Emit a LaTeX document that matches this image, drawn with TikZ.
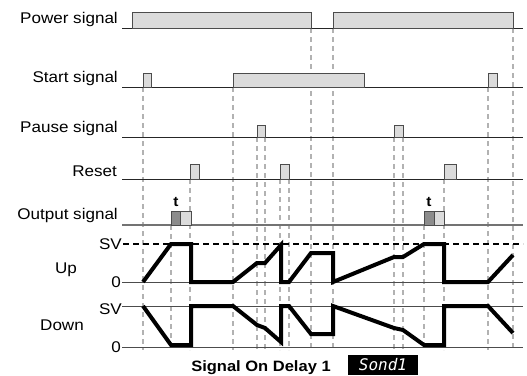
\documentclass[tikz,border=0pt]{standalone}
\usepackage{fontspec}
\setmainfont[FakeStretch=1.1]{Liberation Sans}
\setmonofont{DejaVu Sans Mono}
\tikzset{
	lbl/.style={anchor=base east, inner sep=0pt},
	base/.style={draw=black!85, line width=0.9pt},
	pulse/.style={draw=black!70, fill=black!14, line width=0.8pt},
	guide/.style={draw=black!30, line width=1.4pt, dash pattern=on 5pt off 4pt},
	wave/.style={line width=4pt, line join=miter, miter limit=3},
	axis/.style={draw=black!70, line width=0.8pt}
}
\begin{document}
\begin{tikzpicture}[x=1pt, y=-1pt, font=\fontsize{15.5}{18}\selectfont]
\useasboundingbox (0,0) rectangle (527,375);
\foreach \x/\y in {143/87, 171/225, 190/179, 233/87, 257/137, 265/137, 280/179, 289/179,
		311/28, 333/28, 394/137, 403/137, 424/225, 444/179, 488/87, 513/28}
	\draw[guide] (\x,\y) -- (\x,350);
\node[lbl] (power) at (118,23) {Power signal};
\node[lbl] (start) at (118,82) {Start signal};
\node[lbl] (pause) at (118,132) {Pause signal};
\node[lbl] (reset) at (117,176) {Reset};
\node[lbl] (output) at (118,219) {Output signal};
\foreach \y in {28,87,137,179}
	\draw[base] (122,\y) -- (523,\y);
\draw[base, draw=black!55, line width=1.5pt] (122,225) -- (523,225);
\foreach \a/\b in {132/311, 333/513}
	\draw[pulse] (\a,28) rectangle (\b,12);
\foreach \a/\b in {143/151, 233/364, 488/497}
	\draw[pulse] (\a,87) rectangle (\b,73);
\foreach \a/\b in {257/265, 394/403}
	\draw[pulse] (\a,137) rectangle (\b,125);
\foreach \a/\b in {190/199, 280/289, 444/456}
	\draw[pulse] (\a,179) rectangle (\b,164);
\foreach \a/\b/\c [count=\i] in {171/180/191, 424/434/444} {
	\draw[pulse, fill=black!45] (\a,225) rectangle (\b,211);
	\draw[pulse] (\b,225) rectangle (\c,211);
	\node[font=\bfseries\fontsize{14}{16}\selectfont, anchor=base] (t\i) at (\a+5,206) {t};
}
\node[lbl] (upsv) at (122,249) {SV};
\node[anchor=base] (up) at (66,273) {Up};
\node[lbl] (upzero) at (121,287) {0};
\draw[line width=1.5pt, dash pattern=on 6pt off 4pt] (123,244) -- (523,244);
\draw[axis] (122,282) -- (523,282);
\node[lbl] (dnsv) at (122,314) {SV};
\node[anchor=base] (down) at (62,330) {Down};
\node[lbl] (dnzero) at (121,352) {0};
\draw[axis] (122,306) -- (523,306);
\draw[axis] (122,347) -- (523,347);
\draw[wave] (143,282) -- (171,244) -- (191,244) -- (191,282) -- (233,282) -- (257,263) -- (265,263)
	-- (281,245) -- (281,282) -- (289,282) -- (311,253) -- (333,253) -- (333,282) -- (394,257)
	-- (403,257) -- (424,244) -- (444,244) -- (444,282) -- (488,282) -- (513,255);
\draw[wave] (143,306) -- (171,345) -- (191,345) -- (191,306) -- (233,306) -- (257,325) -- (265,328)
	-- (281,342) -- (281,306) -- (289,306) -- (311,334) -- (333,334) -- (333,306) -- (394,328)
	-- (403,330) -- (424,345) -- (444,345) -- (444,306) -- (488,306) -- (513,333);
\node[font=\bfseries\fontsize{15}{18}\selectfont, anchor=base] (title) at (261,371) {Signal On Delay 1};
\node[fill=black, text=white, minimum width=70pt, minimum height=20pt, inner sep=0pt,
	font=\ttfamily\itshape\fontsize{16}{18}\selectfont] (disp) at (383,365) {Sond1};
\end{tikzpicture}
\end{document}
